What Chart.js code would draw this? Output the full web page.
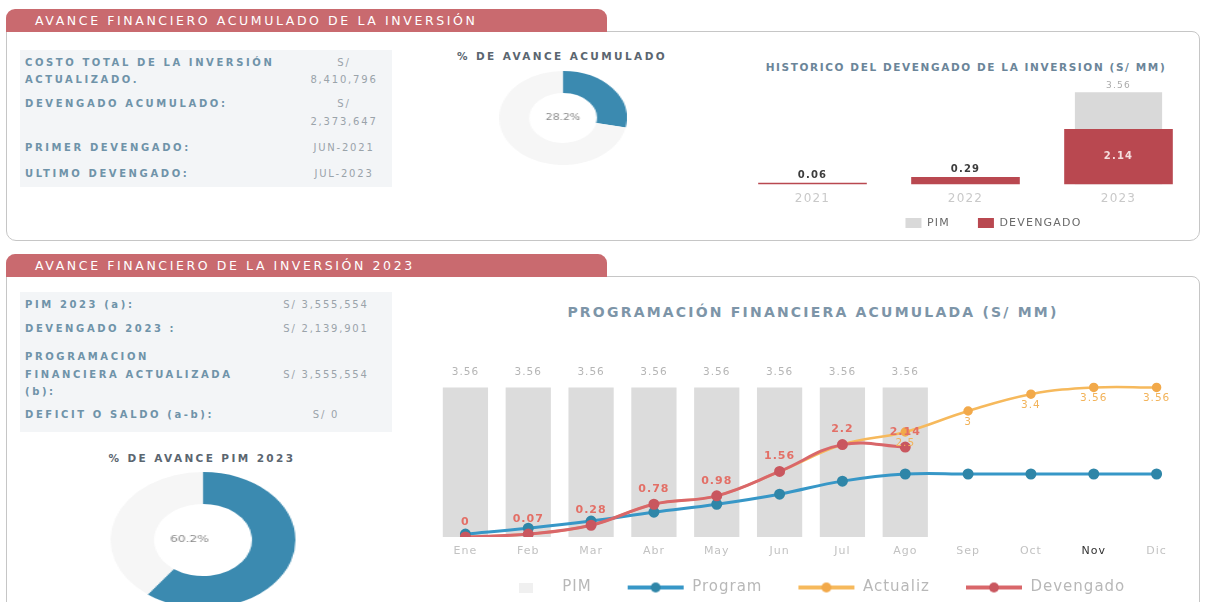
<!DOCTYPE html>
<html lang="es"><head><meta charset="utf-8">
<script src="https://cdn.jsdelivr.net/npm/chart.js@4.4.1/dist/chart.umd.min.js"></script>
<style>
html,body{margin:0;padding:0;background:#fff;}
body{width:1207px;height:602px;overflow:hidden;position:relative;font-family:"DejaVu Sans",sans-serif;}
.abs{position:absolute;}
.tab{position:absolute;left:6px;width:601px;height:23px;background:#c96a6f;border-radius:9px 9px 0 0;color:#fff;font-size:12.5px;letter-spacing:2.6px;line-height:23px;padding-left:29px;box-sizing:border-box;white-space:nowrap;z-index:2;}
.panel{position:absolute;left:6px;width:1194px;border:1.5px solid #c6c6c6;border-radius:0 8px 10px 10px;box-sizing:border-box;}
.tbl{position:absolute;left:20px;width:372px;background:#f3f5f7;}
.lb{position:absolute;left:25px;font-size:10px;font-weight:bold;color:#6f93a9;letter-spacing:2.6px;white-space:nowrap;transform:translateY(-50%);}
.vl{position:absolute;font-size:10px;color:#9aa3aa;letter-spacing:1.8px;white-space:nowrap;transform:translate(-50%,-50%);}
.ttl{position:absolute;font-weight:bold;white-space:nowrap;transform:translate(-50%,-50%);}
.donut{position:absolute;transform:scaleX(1.36);transform-origin:50% 50%;}
</style></head>
<body>
<!-- top section -->
<div class="panel" style="top:31px;height:210px;"></div>
<div class="tab" style="top:9px;">AVANCE FINANCIERO ACUMULADO DE LA INVERSIÓN</div>
<div class="tbl" style="top:50px;height:137px;"></div>
<div class="lb" style="top:62px;">COSTO TOTAL DE LA INVERSIÓN</div>
<div class="lb" style="top:79px;">ACTUALIZADO.</div>
<div class="lb" style="top:103px;">DEVENGADO ACUMULADO:</div>
<div class="lb" style="top:147px;">PRIMER DEVENGADO:</div>
<div class="lb" style="top:173px;">ULTIMO DEVENGADO:</div>
<div class="vl" style="left:344px;top:62px;">S/</div>
<div class="vl" style="left:344px;top:79px;">8,410,796</div>
<div class="vl" style="left:344px;top:103px;">S/</div>
<div class="vl" style="left:344px;top:121px;">2,373,647</div>
<div class="vl" style="left:344px;top:147px;">JUN-2021</div>
<div class="vl" style="left:344px;top:173px;">JUL-2023</div>

<div class="ttl" style="left:562px;top:56px;font-size:10.5px;color:#5b6670;letter-spacing:2.4px;">% DE AVANCE ACUMULADO</div>
<div class="donut" style="left:516px;top:71px;width:94px;height:94px;"><canvas id="donutTop" width="94" height="94"></canvas></div>

<div class="ttl" style="left:966px;top:67px;font-size:10.5px;color:#6b8599;letter-spacing:1.6px;">HISTORICO DEL DEVENGADO DE LA INVERSION (S/ MM)</div>
<canvas id="hist" class="abs" style="left:730px;top:76px;" width="470" height="187"></canvas>

<!-- bottom section -->
<div class="panel" style="top:276px;height:340px;"></div>
<div class="tab" style="top:254px;">AVANCE FINANCIERO DE LA INVERSIÓN 2023</div>
<div class="tbl" style="top:292px;height:140px;"></div>
<div class="lb" style="top:304px;">PIM 2023 (a):</div>
<div class="lb" style="top:328px;">DEVENGADO 2023 :</div>
<div class="lb" style="top:356px;">PROGRAMACION</div>
<div class="lb" style="top:374px;">FINANCIERA ACTUALIZADA</div>
<div class="lb" style="top:391px;">(b):</div>
<div class="lb" style="top:414px;">DEFICIT O SALDO (a-b):</div>
<div class="vl" style="left:326px;top:304px;">S/ 3,555,554</div>
<div class="vl" style="left:326px;top:328px;">S/ 2,139,901</div>
<div class="vl" style="left:326px;top:374px;">S/ 3,555,554</div>
<div class="vl" style="left:326px;top:414px;">S/ 0</div>

<div class="ttl" style="left:202px;top:458px;font-size:10.5px;color:#5b6670;letter-spacing:2.4px;">% DE AVANCE PIM 2023</div>
<div class="donut" style="left:135px;top:472px;width:136px;height:136px;"><canvas id="donutPim" width="136" height="136"></canvas></div>

<div class="ttl" style="left:813px;top:312px;font-size:14px;color:#7d95a8;letter-spacing:2.2px;">PROGRAMACIÓN FINANCIERA ACUMULADA (S/ MM)</div>
<canvas id="main" class="abs" style="left:425px;top:330px;" width="775" height="295"></canvas>

<script>
// ---------- data ----------
const avanceAcumulado = 28.2;
const restoAcumulado = 71.8;
const avancePim2023 = 60.2;
const restoPim2023 = 39.8;

const histYears = ['2021', '2022', '2023'];
const histPim = [null, null, 3.56];
const histDevengado = [0.06, 0.29, 2.14];

const months = ['Ene','Feb','Mar','Abr','May','Jun','Jul','Ago','Sep','Oct','Nov','Dic'];
const pimMensual = [3.56, 3.56, 3.56, 3.56, 3.56, 3.56, 3.56, 3.56, null, null, null, null];
const programada = [0.07, 0.21, 0.38, 0.59, 0.78, 1.02, 1.33, 1.5, 1.5, 1.5, 1.5, 1.5];
const actualizada = [0, 0.07, 0.28, 0.78, 0.98, 1.56, 2.2, 2.5, 3, 3.4, 3.56, 3.56];
const devengadoMensual = [0, 0.07, 0.28, 0.78, 0.98, 1.56, 2.2, 2.14, null, null, null, null];

// ---------- plugins ----------
const FONT = '"DejaVu Sans", sans-serif';

const valueLabels = {
  id: 'valueLabels',
  afterDatasetsDraw(chart) {
    const ctx = chart.ctx;
    chart.data.datasets.forEach((ds, i) => {
      const cfg = ds.valueLabel;
      if (!cfg) return;
      const meta = chart.getDatasetMeta(i);
      meta.data.forEach((el, j) => {
        const v = ds.data[j];
        if (v == null) return;
        if (cfg.from != null && j < cfg.from) return;
        let y, color = cfg.color;
        if (cfg.insideMin != null && v >= cfg.insideMin) {
          y = (el.y + el.base) / 2; color = cfg.insideColor;
        } else {
          y = el.y + cfg.dy;
        }
        ctx.save();
        ctx.font = cfg.font; ctx.fillStyle = color;
        ctx.textAlign = 'center'; ctx.textBaseline = 'middle';
        ctx.fillText(String(v), el.x, y);
        ctx.restore();
      });
    });
  }
};

const spacing = {
  id: 'spacing',
  beforeUpdate(c, a, o) { if (o && o.value) c.ctx.letterSpacing = o.value; },
  beforeLayout(c, a, o) { if (o && o.value) c.ctx.letterSpacing = o.value; },
  beforeDraw(c, a, o) { if (o && o.value) c.ctx.letterSpacing = o.value; }
};

const shiftLegend = {
  id: 'shiftLegend',
  afterLayout(c, a, o) {
    if (!o || !c.legend) return;
    const dx = o.dx || 0, dy = o.dy || 0;
    c.legend.left += dx; c.legend.right += dx;
    c.legend.top += dy; c.legend.bottom += dy;
    if (c.legend.adjustHitBoxes) c.legend.adjustHitBoxes();
  }
};

const centerText = {
  id: 'centerText',
  afterDraw(c, a, o) {
    if (!o || !o.text) return;
    const m = c.getDatasetMeta(0).data[0];
    if (!m) return;
    const ctx = c.ctx;
    ctx.save();
    ctx.font = o.font; ctx.fillStyle = o.color;
    ctx.textAlign = 'center'; ctx.textBaseline = 'middle';
    ctx.fillText(o.text, m.x + (o.dx || 0), m.y);
    ctx.restore();
  }
};

// ---------- donuts ----------
function donut(id, values, text, fontSize, dx) {
  new Chart(document.getElementById(id), {
    type: 'doughnut',
    data: { labels: ['Avance', 'Saldo'], datasets: [{ data: values, backgroundColor: ['#3b8ab0', '#f6f6f6'], borderWidth: 0 }] },
    options: {
      responsive: false, animation: false, cutout: '53%',
      layout: { padding: 0 },
      plugins: { legend: { display: false }, tooltip: { enabled: false },
        centerText: { text: text, font: fontSize + 'px ' + FONT, color: '#8a8a8a', dx: dx } }
    },
    plugins: [centerText]
  });
}
donut('donutTop', [avanceAcumulado, restoAcumulado], avanceAcumulado.toFixed(1) + '%', 8, 0);
donut('donutPim', [avancePim2023, restoPim2023], avancePim2023.toFixed(1) + '%', 9, -10);

// ---------- historic chart ----------
new Chart(document.getElementById('hist'), {
  type: 'bar',
  data: {
    labels: histYears,
    datasets: [
      { label: 'PIM', data: histPim, backgroundColor: '#d9d9d9', barPercentage: 0.57, categoryPercentage: 1, grouped: false, order: 2,
        valueLabel: { dy: -7, color: '#aaaaaa', font: '9px ' + FONT } },
      { label: 'DEVENGADO', data: histDevengado, backgroundColor: '#b94850', barPercentage: 0.71, categoryPercentage: 1, grouped: false, order: 1,
        valueLabel: { dy: -7, color: '#3d3d3d', font: 'bold 10px ' + FONT, insideMin: 1, insideColor: '#f5dede' } }
    ]
  },
  options: {
    responsive: false, animation: false,
    layout: { padding: { left: 6, right: 5, top: 5, bottom: 0 } },
    scales: {
      x: { grid: { display: false, drawTicks: false }, border: { display: false },
           ticks: { padding: 7.6, color: '#c9c9c9', font: { size: 12, family: FONT } } },
      y: { display: false, min: 0, max: 4 }
    },
    plugins: {
      tooltip: { enabled: false },
      spacing: { value: '1.2px' },
      legend: { position: 'bottom',
        labels: { boxWidth: 16, boxHeight: 10, padding: 28, color: '#6a6a6a', font: { size: 11, family: FONT },
          sort: (a, b) => a.datasetIndex - b.datasetIndex } },
      shiftLegend: { dx: 28, dy: -24.5 }
    }
  },
  plugins: [spacing, valueLabels, shiftLegend]
});

// ---------- main chart ----------
function lineIcon(color, pointColor) {
  const c = document.createElement('canvas');
  c.width = 58; c.height = 12;
  const g = c.getContext('2d');
  g.strokeStyle = color; g.lineWidth = 4;
  g.beginPath(); g.moveTo(1, 6); g.lineTo(57, 6); g.stroke();
  g.fillStyle = pointColor;
  g.beginPath(); g.arc(29, 6, 5, 0, Math.PI * 2); g.fill();
  return c;
}
function boxIcon(color) {
  const c = document.createElement('canvas');
  c.width = 14; c.height = 10;
  const g = c.getContext('2d');
  g.fillStyle = color; g.fillRect(0, 0, 14, 10);
  return c;
}
const legendIcons = [boxIcon('#f0f0f0'), lineIcon('#3797c7', '#2f86a8'), lineIcon('#f6b95c', '#f2a94a'), lineIcon('#d9676a', '#c9575f')];

new Chart(document.getElementById('main'), {
  data: {
    labels: months,
    datasets: [
      { type: 'bar', label: 'PIM', data: pimMensual, backgroundColor: '#dcdcdc', barPercentage: 0.72, categoryPercentage: 1, order: 4,
        valueLabel: { dy: -15, color: '#b5b5b5', font: '10.5px ' + FONT } },
      { type: 'line', label: 'Program', data: programada, borderColor: '#3797c7', backgroundColor: '#2f86a8', pointBackgroundColor: '#2f86a8',
        pointBorderColor: '#2f86a8', borderWidth: 3, pointRadius: 4, tension: 0.4, order: 2 },
      { type: 'line', label: 'Actualiz', data: actualizada, borderColor: '#f6b95c', backgroundColor: '#f2a94a', pointBackgroundColor: '#f2a94a',
        pointBorderColor: '#f2a94a', borderWidth: 2.5, pointRadius: 3.5, tension: 0.4, order: 3,
        valueLabel: { dy: 11, from: 7, color: '#f2b35a', font: '10.5px ' + FONT } },
      { type: 'line', label: 'Devengado', data: devengadoMensual, borderColor: '#d9676a', backgroundColor: '#c9575f', pointBackgroundColor: '#c9575f',
        pointBorderColor: '#c9575f', borderWidth: 3, pointRadius: 4, tension: 0.4, order: 1,
        valueLabel: { dy: -15, color: '#e36f66', font: 'bold 11px ' + FONT } }
    ]
  },
  options: {
    responsive: false, animation: false,
    layout: { padding: { left: 9, right: 12, top: 39, bottom: 0 } },
    scales: {
      x: { grid: { display: false, drawTicks: false }, border: { display: false },
           ticks: { padding: 7.4, autoSkip: false, maxRotation: 0, font: { size: 11, family: FONT },
                    color: (c) => c.index === 10 ? '#333333' : '#c2c2c2' } },
      y: { display: false, min: 0, max: 4 }
    },
    plugins: {
      tooltip: { enabled: false },
      spacing: { value: '1px' },
      shiftLegend: { dx: 0, dy: -20 },
      legend: { position: 'bottom',
        labels: { usePointStyle: true, pointStyleWidth: 58, padding: 35, color: '#b8b8b8', font: { size: 15, family: FONT },
          sort: (a, b) => a.datasetIndex - b.datasetIndex,
          generateLabels: (chart) => Chart.defaults.plugins.legend.labels.generateLabels(chart).map(l => {
            l.pointStyle = legendIcons[l.datasetIndex]; l.fontColor = '#b8b8b8'; return l; }) } }
    }
  },
  plugins: [spacing, valueLabels, shiftLegend]
});
</script>
</body></html>
